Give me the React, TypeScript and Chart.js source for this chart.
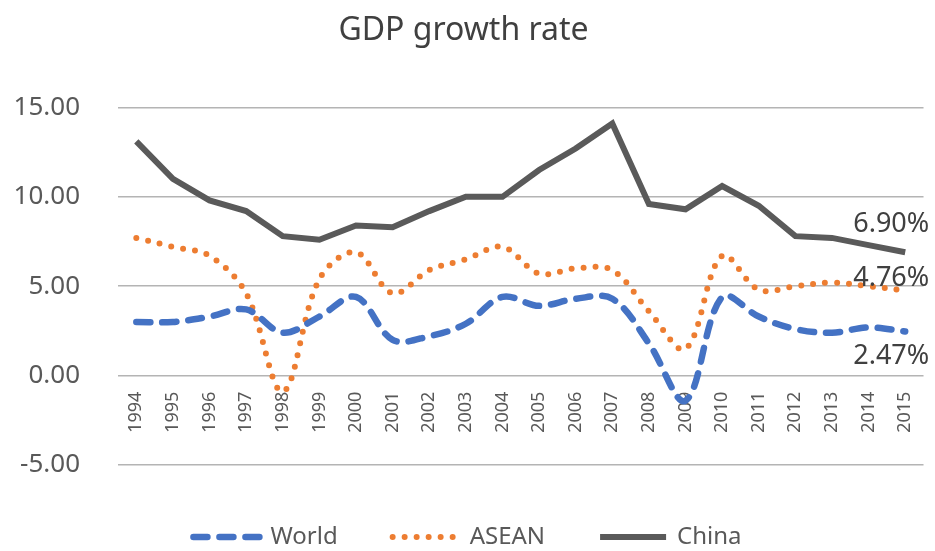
import React, { useEffect, useRef } from "react";
import { Chart, registerables } from "chart.js";

Chart.register(...registerables);

const years = ["1994","1995","1996","1997","1998","1999","2000","2001","2002","2003","2004","2005","2006","2007","2008","2009","2010","2011","2012","2013","2014","2015"];
const world = [3.0,3.0,3.3,3.7,2.4,3.3,4.4,2.0,2.2,2.9,4.4,3.9,4.3,4.3,1.8,-1.4,4.4,3.3,2.6,2.4,2.7,2.47];
const asean = [7.7,7.2,6.7,4.6,-0.9,5.4,6.9,4.6,5.9,6.5,7.2,5.7,6.0,5.9,3.6,1.5,6.7,4.8,5.0,5.2,5.0,4.76];
const china = [13.1,11.0,9.8,9.2,7.8,7.6,8.4,8.3,9.2,10.0,10.0,11.5,12.7,14.1,9.6,9.3,10.6,9.5,7.8,7.7,7.3,6.9];
const seriesNames = ["World", "ASEAN", "China"];
const endLabels = ["2.47%", "4.76%", "6.90%"];
const yTicks = { min: -5, max: 15, step: 5 };
const title = "GDP growth rate";

const endLabelPlugin = {
  id: "endLabels",
  afterDatasetsDraw(chart: any) {
    const ctx = chart.ctx;
    const offsets = [23, -14, -30];
    ctx.save();
    ctx.font = "27px 'Noto Sans'";
    ctx.fillStyle = "#404040";
    ctx.textAlign = "right";
    ctx.textBaseline = "middle";
    chart.data.datasets.forEach((ds: any, i: number) => {
      const meta = chart.getDatasetMeta(i);
      const pt = meta.data[meta.data.length - 1];
      if (!pt) return;
      ctx.fillText(endLabels[i], pt.x + 24, pt.y + offsets[i] + 2);
    });
    ctx.restore();
  },
};

const legendPlugin = {
  id: "bottomLegend",
  afterDraw(chart: any) {
    const ctx = chart.ctx;
    const lineLen = 72;
    const textGap = 8;
    const itemGap = 52;
    const centerX = 466;
    const y = 537;
    ctx.save();
    ctx.font = "24px 'Noto Sans'";
    const items = chart.data.datasets.map((ds: any) => ({
      ds,
      w: lineLen + textGap + ctx.measureText(ds.label).width,
    }));
    const total = items.reduce((a: number, it: any) => a + it.w, 0) + itemGap * (items.length - 1);
    let x = centerX - total / 2;
    items.forEach((it: any) => {
      const ds = it.ds;
      ctx.beginPath();
      ctx.strokeStyle = ds.borderColor;
      ctx.lineWidth = ds.borderWidth;
      ctx.lineCap = ds.borderCapStyle || "butt";
      ctx.setLineDash(ds.borderDash || []);
      ctx.moveTo(x + 3, y);
      ctx.lineTo(x + lineLen - 3, y);
      ctx.stroke();
      ctx.setLineDash([]);
      ctx.fillStyle = "#595959";
      ctx.textAlign = "left";
      ctx.textBaseline = "middle";
      ctx.fillText(ds.label, x + lineLen + textGap, y);
      x += it.w + itemGap;
    });
    ctx.restore();
  },
};

export default function App() {
  const ref = useRef<HTMLCanvasElement | null>(null);
  useEffect(() => {
    if (!ref.current) return;
    Chart.defaults.font.family = "'Noto Sans'";
    const chart = new Chart(ref.current, {
      type: "line",
      data: {
        labels: years,
        datasets: [
          {
            label: seriesNames[0],
            data: world,
            borderColor: "#4472C4",
            backgroundColor: "#4472C4",
            borderWidth: 6.5,
            borderDash: [14, 12],
            borderCapStyle: "round",
            tension: 0.35,
            pointRadius: 0,
          },
          {
            label: seriesNames[1],
            data: asean,
            borderColor: "#ED7D31",
            backgroundColor: "#ED7D31",
            borderWidth: 6,
            borderDash: [0, 12],
            borderCapStyle: "round",
            tension: 0.35,
            pointRadius: 0,
          },
          {
            label: seriesNames[2],
            data: china,
            borderColor: "#5a5a5a",
            backgroundColor: "#5a5a5a",
            borderWidth: 6,
            tension: 0,
            pointRadius: 0,
          },
        ],
      },
      options: {
        responsive: false,
        animation: false,
        layout: { padding: { left: 0, right: 8, top: 0, bottom: 86 } },
        plugins: {
          title: {
            display: true,
            text: title,
            color: "#404040",
            font: { size: 32, weight: "normal" },
            padding: { top: 12, bottom: 57 },
          },
          legend: { display: false },
          tooltip: { enabled: false },
        },
        scales: {
          x: {
            type: "category",
            position: { y: 0 },
            offset: true,
            grid: { display: false },
            border: { display: false },
            ticks: {
              autoSkip: false,
              maxRotation: 90,
              minRotation: 90,
              padding: 8,
              color: "#595959",
              font: { size: 18 },
            },
            afterFit: (s: any) => {
              s.height = 0;
            },
          },
          y: {
            min: yTicks.min,
            max: yTicks.max,
            border: { display: false },
            grid: { color: "#b4b4b4", lineWidth: 1.5, drawTicks: false },
            ticks: {
              stepSize: yTicks.step,
              padding: 38,
              color: "#595959",
              font: { size: 26 },
              callback: (v: any) => Number(v).toFixed(2),
            },
            afterFit: (s: any) => {
              s.width = 118;
            },
          },
        },
      },
      plugins: [endLabelPlugin, legendPlugin],
    } as any);
    return () => chart.destroy();
  }, []);
  return (
    <div style={{ position: "fixed", left: 0, top: 0, width: 935, height: 551, background: "#fff" }}>
      <canvas ref={ref} width={935} height={551} style={{ display: "block" }} />
    </div>
  );
}
